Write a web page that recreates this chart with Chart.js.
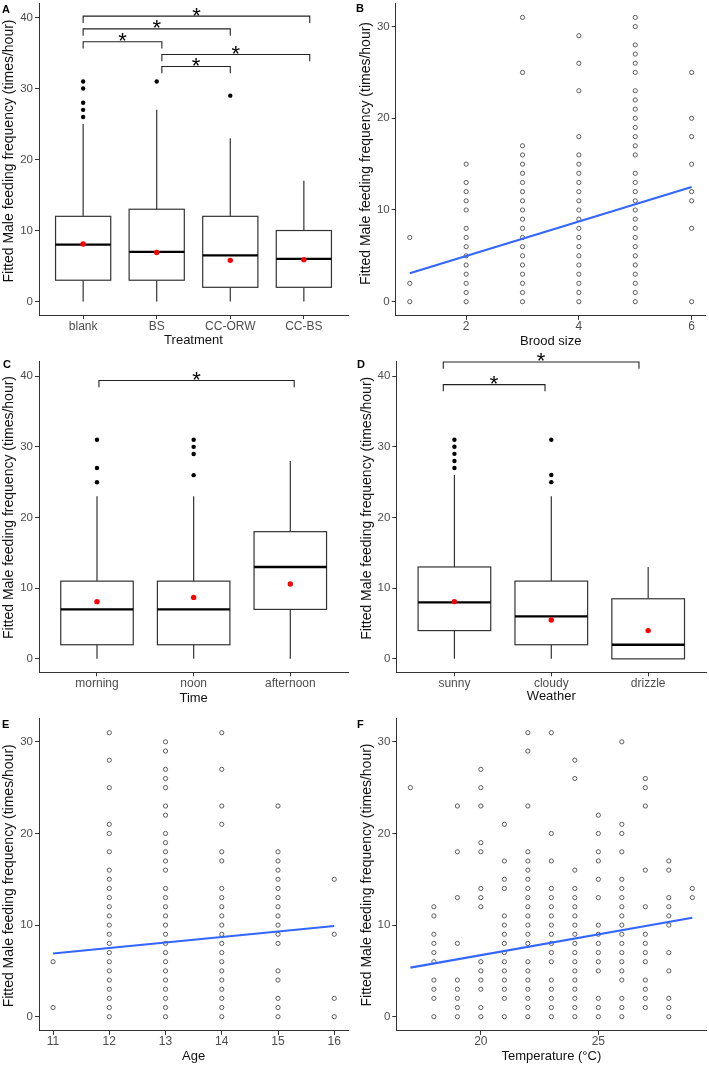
<!DOCTYPE html>
<html>
<head>
<meta charset="utf-8">
<script src="https://cdn.jsdelivr.net/npm/chart.js@4.4.1/dist/chart.umd.min.js"></script>
<style>
  body { margin: 0; background: #fff; }
  #fig { position: relative; width: 709px; height: 1065px; }
  #fig canvas { position: absolute; }
</style>
</head>
<body>
<div id="fig">
  <canvas id="chartA" width="354" height="355" style="left:0px;top:0px"></canvas>
  <canvas id="chartB" width="355" height="355" style="left:354px;top:0px"></canvas>
  <canvas id="chartC" width="354" height="355" style="left:0px;top:355px"></canvas>
  <canvas id="chartD" width="355" height="370" style="left:354px;top:340px"></canvas>
  <canvas id="chartE" width="354" height="355" style="left:0px;top:710px"></canvas>
  <canvas id="chartF" width="355" height="355" style="left:354px;top:710px"></canvas>
</div>
<script>
// ---- A: treatment boxplots
const treatmentCats = ['blank', 'BS', 'CC-ORW', 'CC-BS'];
const treatmentLower = [0, 0, 0, 0];
const treatmentQ1 = [3, 3, 2, 2];
const treatmentMedian = [8, 7, 6.5, 6];
const treatmentQ3 = [12, 13, 12, 10];
const treatmentUpper = [25, 27, 23, 17];
const treatmentMean = [8.1, 6.9, 5.8, 5.9];
const treatmentOutliers = [[26, 27, 28, 30, 31], [31], [29], []];
const treatmentSigFrom = [1, 1, 1, 2.07, 2.07];
const treatmentSigTo = [4.08, 3, 2.07, 4.08, 3];
const treatmentSigY = [40.2, 38.4, 36.6, 34.8, 33.1];

// ---- C: time of day boxplots
const timeCats = ['morning', 'noon', 'afternoon'];
const timeLower = [0, 0, 0];
const timeQ1 = [2, 2, 7];
const timeMedian = [7, 7, 13];
const timeQ3 = [11, 11, 18];
const timeUpper = [23, 23, 28];
const timeMean = [8.1, 8.7, 10.6];
const timeOutliers = [[25, 27, 31], [26, 29, 30, 31], []];
const timeSigFrom = [1.02];
const timeSigTo = [3.04];
const timeSigY = [39.4];

// ---- D: weather boxplots
const weatherCats = ['sunny', 'cloudy', 'drizzle'];
const weatherLower = [0, 0, 0];
const weatherQ1 = [4, 2, 0];
const weatherMedian = [8, 6, 2];
const weatherQ3 = [13, 11, 8.5];
const weatherUpper = [26, 23, 13];
const weatherMean = [8.1, 5.5, 4.0];
const weatherOutliers = [[27, 28, 29, 30, 31], [25, 26, 31], []];
const weatherSigFrom = [0.885, 0.885];
const weatherSigTo = [1.935, 2.905];
const weatherSigY = [38.8, 42.0];

// ---- B: brood size scatter
const broodSizes = [1, 2, 3, 4, 5, 6];
const broodFeeding = [
  [0, 2, 7],
  [0, 1, 2, 3, 4, 5, 6, 7, 8, 10, 11, 12, 13, 15],
  [0, 1, 2, 3, 4, 5, 6, 7, 8, 9, 10, 11, 12, 13, 14, 15, 16, 17, 25, 31],
  [0, 1, 2, 3, 4, 5, 6, 7, 8, 9, 10, 11, 12, 13, 14, 15, 16, 18, 23, 26, 29],
  [0, 1, 2, 3, 4, 5, 6, 7, 8, 9, 10, 11, 12, 13, 14, 16, 17, 18, 19, 20, 21, 22, 23, 25, 26, 27, 28, 30, 31],
  [0, 8, 11, 12, 15, 18, 20, 25]
];
const broodFitX = [1, 6];
const broodFitY = [3.1, 12.5];

// ---- E: age scatter
const ages = [11, 12, 13, 14, 15, 16];
const ageFeeding = [
  [1, 6],
  [0, 1, 2, 3, 4, 5, 6, 7, 8, 9, 10, 11, 12, 13, 14, 15, 16, 18, 20, 21, 25, 28, 31],
  [0, 1, 2, 3, 4, 5, 6, 7, 8, 9, 10, 11, 12, 13, 14, 16, 17, 18, 19, 20, 22, 23, 25, 26, 27, 29, 30],
  [0, 1, 2, 3, 4, 5, 6, 7, 8, 9, 10, 11, 12, 13, 14, 17, 18, 21, 23, 27, 31],
  [0, 1, 2, 4, 5, 8, 9, 10, 11, 12, 13, 14, 15, 16, 17, 18, 23],
  [0, 2, 9, 15]
];
const ageFitX = [11, 16];
const ageFitY = [6.9, 9.9];

// ---- F: temperature scatter
const temps = [17, 18, 19, 20, 21, 22, 23, 24, 25, 26, 27, 28, 29];
const tempFeeding = [
  [25],
  [0, 2, 3, 4, 6, 7, 8, 9, 11, 12],
  [0, 1, 2, 3, 4, 8, 13, 18, 23],
  [0, 1, 3, 4, 5, 6, 12, 13, 14, 18, 19, 23, 25, 27],
  [0, 2, 3, 4, 5, 6, 7, 8, 9, 10, 11, 14, 15, 17, 21],
  [0, 1, 2, 3, 4, 5, 6, 8, 9, 10, 11, 12, 13, 14, 15, 16, 17, 18, 23, 29, 31],
  [0, 1, 2, 3, 4, 6, 7, 8, 9, 10, 11, 12, 13, 14, 17, 20, 31],
  [0, 1, 2, 3, 4, 5, 6, 7, 8, 9, 10, 11, 12, 13, 14, 16, 26, 28],
  [0, 1, 2, 5, 6, 7, 8, 9, 10, 13, 15, 17, 18, 20, 22],
  [0, 1, 2, 4, 5, 6, 7, 8, 9, 10, 11, 12, 13, 14, 15, 18, 20, 21, 30],
  [1, 2, 3, 4, 6, 7, 8, 9, 12, 16, 23, 25, 26],
  [0, 1, 2, 5, 7, 10, 11, 12, 13, 16, 17],
  [13, 14]
];
const tempFitX = [17, 29];
const tempFitY = [5.35, 10.8];

const yTitle = 'Fitted Male feeding frequency (times/hour)';

const FONT = '"Liberation Sans", Arial, Helvetica, sans-serif';
Chart.defaults.font.family = FONT;
Chart.defaults.animation = false;

const BOX_WIDTH = 0.75;
const TIP = 0.95;

// boxes go under the points; brackets, y title and panel letter on top
const figurePlugin = {
  id: 'figure',
  beforeDatasetsDraw(chart, args, opts) {
    const box = opts.box;
    if (!box) return;
    const { ctx } = chart;
    const x = chart.scales.x, y = chart.scales.y;
    ctx.save();
    box.q1.forEach((q1, i) => {
      const xc = x.getPixelForValue(i + 1);
      const x0 = x.getPixelForValue(i + 1 - BOX_WIDTH / 2);
      const x1 = x.getPixelForValue(i + 1 + BOX_WIDTH / 2);
      const yq1 = y.getPixelForValue(q1);
      const yq3 = y.getPixelForValue(box.q3[i]);
      const ymed = y.getPixelForValue(box.median[i]);
      ctx.strokeStyle = '#333';
      ctx.lineWidth = 1.2;
      ctx.beginPath();
      ctx.moveTo(xc, y.getPixelForValue(box.upper[i]));
      ctx.lineTo(xc, yq3);
      ctx.moveTo(xc, y.getPixelForValue(box.lower[i]));
      ctx.lineTo(xc, yq1);
      ctx.stroke();
      ctx.fillStyle = '#fff';
      ctx.fillRect(x0, yq3, x1 - x0, yq1 - yq3);
      ctx.strokeRect(x0, yq3, x1 - x0, yq1 - yq3);
      ctx.strokeStyle = '#000';
      ctx.lineWidth = 2.3;
      ctx.beginPath();
      ctx.moveTo(x0, ymed);
      ctx.lineTo(x1, ymed);
      ctx.stroke();
    });
    ctx.restore();
  },
  afterDraw(chart, args, opts) {
    const { ctx } = chart;
    ctx.save();
    if (opts.sig) {
      const x = chart.scales.x, y = chart.scales.y;
      ctx.strokeStyle = '#222';
      ctx.lineWidth = 1.1;
      ctx.fillStyle = '#000';
      ctx.font = '22px ' + FONT;
      ctx.textAlign = 'center';
      ctx.textBaseline = 'alphabetic';
      opts.sig.from.forEach((from, i) => {
        const xa = x.getPixelForValue(from);
        const xb = x.getPixelForValue(opts.sig.to[i]);
        const yt = y.getPixelForValue(opts.sig.y[i]);
        const yl = y.getPixelForValue(opts.sig.y[i] - TIP);
        ctx.beginPath();
        ctx.moveTo(xa, yl);
        ctx.lineTo(xa, yt);
        ctx.lineTo(xb, yt);
        ctx.lineTo(xb, yl);
        ctx.stroke();
        ctx.fillText('*', (xa + xb) / 2, yt + 6.5);
      });
    }
    if (opts.yTitle) {
      ctx.save();
      ctx.translate(opts.yTitle.x, opts.yTitle.y);
      ctx.rotate(-Math.PI / 2);
      ctx.fillStyle = '#111';
      ctx.font = '14px ' + FONT;
      ctx.textAlign = 'center';
      ctx.textBaseline = 'middle';
      ctx.fillText(yTitle, 0, 0);
      ctx.restore();
    }
    if (opts.letter) {
      ctx.fillStyle = '#000';
      ctx.font = 'bold 11px ' + FONT;
      ctx.textAlign = 'left';
      ctx.textBaseline = 'alphabetic';
      ctx.fillText(opts.letter.text, opts.letter.x, opts.letter.y);
    }
    ctx.restore();
  }
};

function xAxis(frame, min, max, tickValues, labels, title, titleGap) {
  return {
    type: 'linear', position: 'bottom', min, max, bounds: 'data',
    afterBuildTicks: s => { s.ticks = tickValues.map(v => ({ value: v })); },
    ticks: {
      callback: (v, i) => labels ? labels[i] : v,
      color: '#4d4d4d', font: { size: 12 }, padding: 0, maxRotation: 0, autoSkip: false
    },
    grid: { drawOnChartArea: false, tickLength: 4, color: '#333', tickColor: '#333' },
    border: { color: '#333', width: 1 },
    title: { display: true, text: title, color: '#111', font: { size: 13 }, padding: { top: 0, bottom: titleGap } },
    afterFit: s => { s.height = frame.h - frame.bottom; s.paddingLeft = 0; s.paddingRight = 0; }
  };
}

function yAxis(frame, min, max, tickValues) {
  return {
    type: 'linear', min, max, bounds: 'data',
    afterBuildTicks: s => { s.ticks = tickValues.map(v => ({ value: v })); },
    ticks: { color: '#4d4d4d', font: { size: 11.5 }, padding: 2 },
    grid: { drawOnChartArea: false, tickLength: 4, color: '#333', tickColor: '#333' },
    border: { color: '#333', width: 1 },
    title: { display: false },
    afterFit: s => { s.width = frame.left; s.paddingTop = 0; s.paddingBottom = 0; }
  };
}

function makeChart(id, frame, datasets, scales, figureOpts) {
  return new Chart(document.getElementById(id), {
    type: 'scatter',
    data: { datasets },
    options: {
      responsive: false,
      layout: { autoPadding: false, padding: { left: 0, top: frame.top, right: frame.w - frame.right, bottom: 0 } },
      plugins: { legend: { display: false }, tooltip: { enabled: false }, figure: figureOpts },
      scales
    },
    plugins: [figurePlugin]
  });
}

function boxPanel(id, frame, cats, stats, mean, outliers, sig, xTitle, gap, titlePos, letter) {
  const outlierPts = outliers.flatMap((vals, i) => vals.map(v => ({ x: i + 1, y: v })));
  const meanPts = mean.map((m, i) => ({ x: i + 1, y: m }));
  const ticks = cats.map((c, i) => i + 1);
  return makeChart(id, frame, [
    { data: meanPts, pointRadius: 2.7, pointBackgroundColor: '#ff0000', pointBorderColor: '#ff0000', pointBorderWidth: 0 },
    { data: outlierPts, pointRadius: 2.2, pointBackgroundColor: '#000', pointBorderColor: '#000', pointBorderWidth: 0 }
  ], {
    x: xAxis(frame, 0.4, cats.length + 0.6, ticks, cats, xTitle, gap),
    y: yAxis(frame, -1.9, 42.05, [0, 10, 20, 30, 40])
  }, { box: stats, sig, letter, yTitle: titlePos });
}

function scatterPanel(id, frame, xs, values, fitX, fitY, xRange, xTicks, xTitle, gap, titlePos, letter) {
  const pts = xs.flatMap((x, i) => values[i].map(v => ({ x, y: v })));
  return makeChart(id, frame, [
    { type: 'line', data: fitX.map((x, i) => ({ x, y: fitY[i] })), borderColor: '#3366ff', borderWidth: 2.2, pointRadius: 0, tension: 0 },
    { data: pts, pointRadius: 2.1, pointBorderWidth: 1, pointBorderColor: '#5a5a5a', pointBackgroundColor: 'rgba(0,0,0,0)' }
  ], {
    x: xAxis(frame, xRange[0], xRange[1], xTicks, null, xTitle, gap),
    y: yAxis(frame, -1.55, 32.55, [0, 10, 20, 30])
  }, { letter, yTitle: titlePos });
}

boxPanel('chartA', { w: 354, h: 355, left: 39, top: 3, right: 348, bottom: 315 },
  treatmentCats,
  { lower: treatmentLower, q1: treatmentQ1, median: treatmentMedian, q3: treatmentQ3, upper: treatmentUpper },
  treatmentMean, treatmentOutliers,
  { from: treatmentSigFrom, to: treatmentSigTo, y: treatmentSigY },
  'Treatment', 7.2, { x: 9.5, y: 151 }, { text: 'A', x: 2, y: 12.5 });

scatterPanel('chartB', { w: 355, h: 355, left: 41.7, top: 3.2, right: 351.7, bottom: 315.9 },
  broodSizes, broodFeeding, broodFitX, broodFitY, [0.75, 6.25], [2, 4, 6],
  'Brood size', 5.5, { x: 12.3, y: 153.5 }, { text: 'B', x: 2, y: 12 });

boxPanel('chartC', { w: 354, h: 355, left: 39, top: 6.7, right: 348.3, bottom: 317.3 },
  timeCats,
  { lower: timeLower, q1: timeQ1, median: timeMedian, q3: timeQ3, upper: timeUpper },
  timeMean, timeOutliers,
  { from: timeSigFrom, to: timeSigTo, y: timeSigY },
  'Time', 3.9, { x: 9.5, y: 152.5 }, { text: 'C', x: 3, y: 12.5 });

boxPanel('chartD', { w: 355, h: 370, left: 42.3, top: 21.6, right: 352.3, bottom: 332.3 },
  weatherCats,
  { lower: weatherLower, q1: weatherQ1, median: weatherMedian, q3: weatherQ3, upper: weatherUpper },
  weatherMean, weatherOutliers,
  { from: weatherSigFrom, to: weatherSigTo, y: weatherSigY },
  'Weather', 5.5, { x: 13.3, y: 168.3 }, { text: 'D', x: 3, y: 27.5 });

scatterPanel('chartE', { w: 354, h: 355, left: 39, top: 8.5, right: 348.3, bottom: 320.9 },
  ages, ageFeeding, ageFitX, ageFitY, [10.75, 16.25], [11, 12, 13, 14, 15, 16],
  'Age', 0.5, { x: 9, y: 165.8 }, { text: 'E', x: 2, y: 18 });

scatterPanel('chartF', { w: 355, h: 355, left: 42.3, top: 8.5, right: 352.4, bottom: 320.9 },
  temps, tempFeeding, tempFitX, tempFitY, [16.4, 29.6], [20, 25],
  'Temperature (°C)', 0.5, { x: 13.3, y: 165 }, { text: 'F', x: 3, y: 17.5 });
</script>
</body>
</html>
